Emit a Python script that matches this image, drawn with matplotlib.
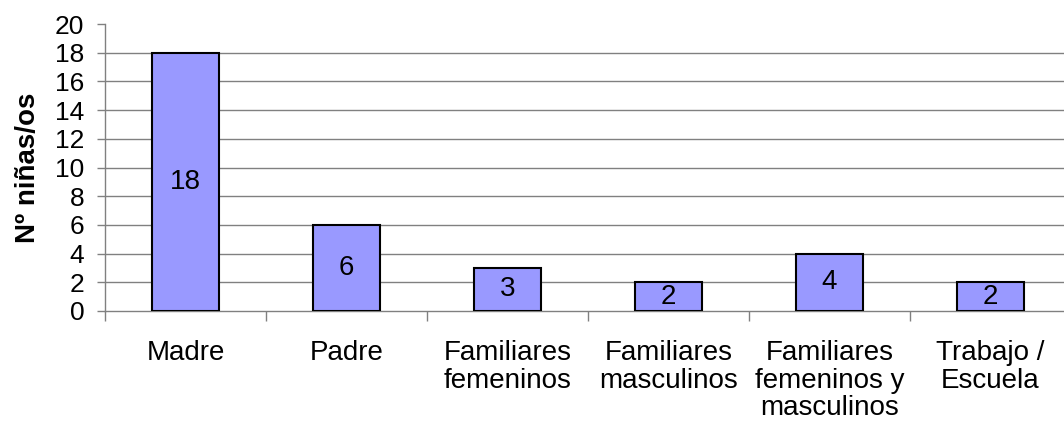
import numpy as np
import matplotlib.pyplot as plt

# dados
categorias = ["Madre", "Padre", "Familiares\nfemeninos", "Familiares\nmasculinos",
              "Familiares\nfemeninos y\nmasculinos", "Trabajo /\nEscuela"]
valores = [18, 6, 3, 2, 4, 2]
yticks = list(range(0, 21, 2))

plt.rcParams["font.family"] = ["Liberation Sans", "DejaVu Sans"]

fig = plt.figure(figsize=(10.64, 4.41), dpi=100)
ax = fig.add_axes([105 / 1064, 130 / 441, 966 / 1064, 287 / 441])

x = np.arange(len(categorias))
bars = ax.bar(x, valores, width=0.42, color="#9999FF", edgecolor="black",
              linewidth=1.5, zorder=3)

# rótulos dentro das barras (centro)
for b, v in zip(bars, valores):
    ax.text(b.get_x() + b.get_width() / 2, v / 2, str(v), ha="center",
            va="center", fontsize=20, zorder=4)

# grade horizontal (sem linha em 20)
for yv in yticks[1:-1]:
    ax.axhline(yv, color="#808080", linewidth=1, zorder=1)

ax.set_xlim(-0.5, len(categorias) - 0.5)
ax.set_ylim(0, 20)
ax.set_yticks(yticks)
ax.tick_params(axis="y", labelsize=19, length=6, width=1, color="#808080",
               pad=9, direction="out")

ax.set_xticks(x)
ax.set_xticklabels(categorias, fontsize=20, linespacing=1.08)
ax.tick_params(axis="x", length=0, pad=21)
ax.set_xticks(np.arange(-0.5, len(categorias)), minor=True)
ax.tick_params(axis="x", which="minor", length=7, width=1, color="#808080")

for s in ["top", "right"]:
    ax.spines[s].set_visible(False)
ax.spines["left"].set_color("#808080")
ax.spines["bottom"].set_color("#808080")
ax.spines["left"].set_linewidth(1)
ax.spines["bottom"].set_linewidth(1)

ax.set_ylabel("Nº niñas/os", fontsize=20, fontweight="bold", labelpad=10)

fig.savefig("out.png", dpi=100)
